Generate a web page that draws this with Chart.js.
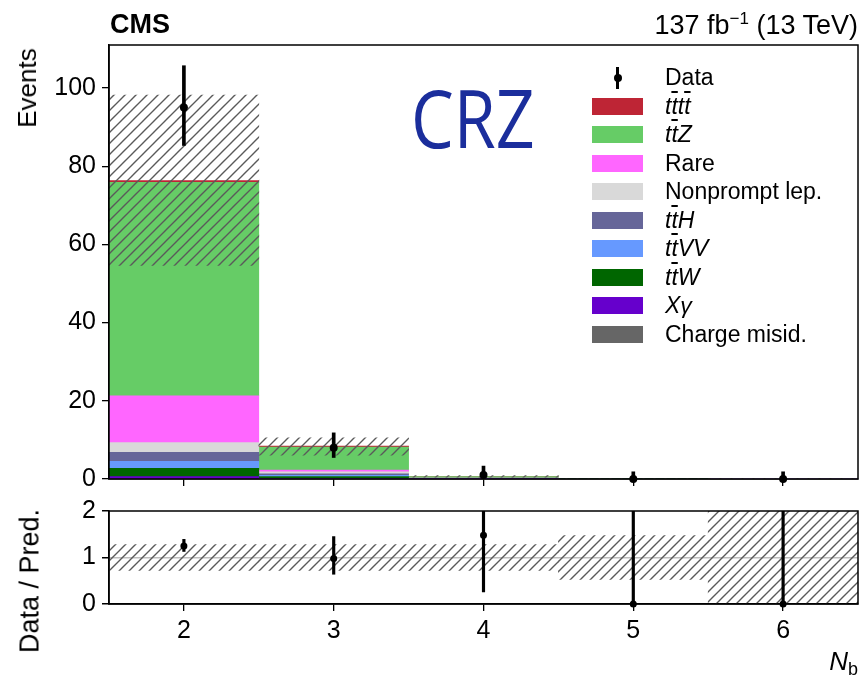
<!DOCTYPE html>
<html>
<head>
<meta charset="utf-8">
<title>CRZ N_b</title>
<script src="https://cdn.jsdelivr.net/npm/chart.js@4.4.1/dist/chart.umd.min.js"></script>
<style>
    html, body { margin: 0; padding: 0; background: #fff; }
    body { width: 862px; height: 675px; position: relative; overflow: hidden;
           font-family: "Liberation Sans", Arial, sans-serif; color: #000; }
    canvas { position: absolute; left: 0; }
    #main { top: 0; }
    #ratio { top: 490px; }
    .txt { position: absolute; white-space: nowrap; line-height: 1; }
    .rot { transform: translate(-50%, -50%) rotate(-90deg); }
    .bar { text-decoration: overline; text-decoration-thickness: 1.5px; }
    #legend { position: absolute; left: 592px; top: 64px; }
    .row { position: relative; height: 28.5px; }
    .sw { position: absolute; left: 0; top: 5px; width: 51px; height: 17px; }
    .lab { position: absolute; left: 73px; top: 2px; font-size: 23px; white-space: nowrap; line-height: 1; }
</style>
</head>
<body>
<canvas id="main" width="862" height="500"></canvas>
<canvas id="ratio" width="862" height="185"></canvas>

<div class="txt" style="left:110px; top:11px; font-size:27px; font-weight:bold;">CMS</div>
<div class="txt" style="right:4px; top:10px; font-size:27px;">137 fb<sup style="font-size:17px; vertical-align:10px;">&minus;1</sup> (13 TeV)</div>
<div class="txt rot" style="left:27px; top:88px; font-size:26px;">Events</div>
<div class="txt rot" style="left:30px; top:581px; font-size:27px;">Data / Pred.</div>
<div class="txt" style="left:411px; top:77px; font-size:80px; font-family:'Open Sans', sans-serif; color:#1b2e9c; transform:scaleX(0.85); transform-origin:left top;">CRZ</div>
<div class="txt" style="right:4px; top:648px; font-size:26px;"><i>N</i><span style="font-size:18px; vertical-align:-5px;">b</span></div>

<div id="legend">
    <div class="row">
        <div style="position:absolute; left:24px; top:3px; width:3px; height:22px; background:#000;"></div>
        <div style="position:absolute; left:21.5px; top:10px; width:8px; height:8px; border-radius:50%; background:#000;"></div>
        <div class="lab">Data</div>
    </div>
    <div class="row"><div class="sw" style="background:#be2535"></div><div class="lab"><i>t<span class="bar">t</span>t<span class="bar">t</span></i></div></div>
    <div class="row"><div class="sw" style="background:#66cc66"></div><div class="lab"><i>t<span class="bar">t</span>Z</i></div></div>
    <div class="row"><div class="sw" style="background:#ff66ff"></div><div class="lab">Rare</div></div>
    <div class="row"><div class="sw" style="background:#d9d9d9"></div><div class="lab">Nonprompt lep.</div></div>
    <div class="row"><div class="sw" style="background:#666699"></div><div class="lab"><i>t<span class="bar">t</span>H</i></div></div>
    <div class="row"><div class="sw" style="background:#6699ff"></div><div class="lab"><i>t<span class="bar">t</span>VV</i></div></div>
    <div class="row"><div class="sw" style="background:#006600"></div><div class="lab"><i>t<span class="bar">t</span>W</i></div></div>
    <div class="row"><div class="sw" style="background:#6600cc"></div><div class="lab"><i>X&gamma;</i></div></div>
    <div class="row"><div class="sw" style="background:#666666"></div><div class="lab">Charge misid.</div></div>
</div>

<script>
    // bins of N_b
    var bins = ["2", "3", "4", "5", "6"];

    // expected yields per process (stacked from the bottom)
    var chargeMisid = [0, 0, 0, 0, 0];
    var xGamma      = [0.6, 0.15, 0.01, 0, 0];
    var ttW         = [2.1, 0.5, 0.03, 0.01, 0];
    var ttVV        = [1.8, 0.3, 0.05, 0.01, 0];
    var ttH         = [2.3, 0.4, 0.04, 0.01, 0];
    var nonprompt   = [2.5, 0.5, 0.05, 0.01, 0];
    var rare        = [12.0, 0.4, 0.05, 0.01, 0.005];
    var ttZ         = [54.6, 5.9, 0.40, 0.05, 0.01];
    var tttt        = [0.4, 0.25, 0.05, 0.02, 0.01];

    // total uncertainty band (low, high)
    var uncLow  = [54.6, 6.1, 0.49, 0.06, 0];
    var uncHigh = [98.2, 10.5, 0.87, 0.18, 0.06];

    // observed data with error bars
    var dataObs  = [95, 8, 1, 0, 0];
    var dataLow  = [85.3, 5.5, 0.17, 0, 0];
    var dataHigh = [105.7, 11.8, 3.3, 1.84, 1.84];

    // ratio panel
    var ratioVal     = [1.25, 0.98, 1.48, 0, 0];
    var ratioLow     = [1.13, 0.64, 0.26, 0, 0];
    var ratioHigh    = [1.39, 1.45, 3.4, 20, 60];
    var ratioUncLow  = [0.72, 0.72, 0.72, 0.53, 0];
    var ratioUncHigh = [1.28, 1.28, 1.28, 1.47, 3];

    var mainTicks = [0, 20, 40, 60, 80, 100];

    function pairs(lo, hi) {
        return lo.map(function (v, i) { return [v, hi[i]]; });
    }

    // diagonal hatch like matplotlib '///'
    function makeHatch(ctx, size, color, lw) {
        var c = document.createElement('canvas');
        c.width = size; c.height = size;
        var g = c.getContext('2d');
        g.strokeStyle = color;
        g.lineWidth = lw;
        g.beginPath();
        g.moveTo(-1, size + 1); g.lineTo(size + 1, -1);
        g.moveTo(-size / 2 - 1, size / 2 + 1); g.lineTo(size / 2 + 1, -size / 2 - 1);
        g.moveTo(size / 2 - 1, size * 1.5 + 1); g.lineTo(size * 1.5 + 1, size / 2 - 1);
        g.stroke();
        return ctx.createPattern(c, 'repeat');
    }

    // full frame round the plot area
    var frame = {
        id: 'frame',
        afterDraw: function (chart) {
            var a = chart.chartArea, ctx = chart.ctx;
            ctx.save();
            ctx.strokeStyle = '#000';
            ctx.lineWidth = 1.5;
            ctx.strokeRect(a.left, a.top, a.right - a.left, a.bottom - a.top);
            ctx.restore();
        }
    };

    function stackSet(label, data, color) {
        return {
            type: 'bar', label: label, data: data, backgroundColor: color,
            borderWidth: 0, stack: 'mc', order: 3,
            barPercentage: 1, categoryPercentage: 1
        };
    }

    var tickFont = { family: '"Liberation Sans", Arial, sans-serif', size: 25 };

    // Main panel
    var ctx1 = document.getElementById('main').getContext('2d');
    new Chart(ctx1, {
        data: {
            labels: bins,
            datasets: [
                stackSet('Charge misid.', chargeMisid, '#666666'),
                stackSet('Xγ', xGamma, '#6600cc'),
                stackSet('ttW', ttW, '#006600'),
                stackSet('ttVV', ttVV, '#6699ff'),
                stackSet('ttH', ttH, '#666699'),
                stackSet('Nonprompt lep.', nonprompt, '#d9d9d9'),
                stackSet('Rare', rare, '#ff66ff'),
                stackSet('ttZ', ttZ, '#66cc66'),
                stackSet('tttt', tttt, '#be2535'),
                {
                    type: 'bar', label: 'Unc.', data: pairs(uncLow, uncHigh),
                    backgroundColor: makeHatch(ctx1, 11, '#5a5a5a', 1.4),
                    borderWidth: 0, stack: 'unc', grouped: false, order: 2,
                    barPercentage: 1, categoryPercentage: 1
                },
                {
                    type: 'bar', label: 'err', data: pairs(dataLow, dataHigh),
                    backgroundColor: '#000', barThickness: 3,
                    stack: 'err', grouped: false, order: 1
                },
                {
                    type: 'line', label: 'Data', data: dataObs, showLine: false,
                    pointRadius: 4, pointBackgroundColor: '#000', pointBorderWidth: 0,
                    stack: 'pts', order: 0, clip: false
                }
            ]
        },
        options: {
            responsive: false,
            animation: false,
            layout: { padding: { top: 45, right: 1, left: 0, bottom: 0 } },
            plugins: { legend: { display: false }, tooltip: { enabled: false } },
            scales: {
                x: {
                    type: 'category', offset: true, stacked: true,
                    grid: { drawOnChartArea: false, drawTicks: true, tickLength: 7, offset: false, color: '#000', lineWidth: 1.3 },
                    border: { color: '#000', width: 1.5 },
                    ticks: { display: false },
                    afterFit: function (s) { s.height = 18; }
                },
                y: {
                    min: 0, max: 111, stacked: true,
                    afterBuildTicks: function (s) { s.ticks = mainTicks.map(function (v) { return { value: v }; }); },
                    ticks: { font: tickFont, color: '#000', padding: 6 },
                    grid: { drawOnChartArea: false, tickLength: 7, color: '#000', lineWidth: 1.3 },
                    border: { color: '#000', width: 1.5 },
                    afterFit: function (s) { s.width = 109; }
                }
            }
        },
        plugins: [frame]
    });

    // Ratio panel
    var ctx2 = document.getElementById('ratio').getContext('2d');
    new Chart(ctx2, {
        data: {
            labels: bins,
            datasets: [
                {
                    type: 'bar', label: 'Unc.', data: pairs(ratioUncLow, ratioUncHigh),
                    backgroundColor: makeHatch(ctx2, 10, '#5a5a5a', 1.4),
                    borderWidth: 0, grouped: false, order: 2,
                    barPercentage: 1, categoryPercentage: 1
                },
                {
                    type: 'bar', label: 'err', data: pairs(ratioLow, ratioHigh),
                    backgroundColor: '#000', barThickness: 2.5,
                    grouped: false, order: 1
                },
                {
                    type: 'line', label: 'Data / Pred.', data: ratioVal, showLine: false,
                    pointRadius: 3.5, pointBackgroundColor: '#000', pointBorderWidth: 0,
                    order: 0, clip: false
                }
            ]
        },
        options: {
            responsive: false,
            animation: false,
            layout: { padding: { top: 18, right: 1, left: 0, bottom: 0 } },
            plugins: { legend: { display: false }, tooltip: { enabled: false } },
            scales: {
                x: {
                    type: 'category', offset: true,
                    grid: { drawOnChartArea: false, drawTicks: true, tickLength: 7, offset: false, color: '#000', lineWidth: 1.3 },
                    border: { color: '#000', width: 1.5 },
                    ticks: { font: tickFont, color: '#000', padding: 5, maxRotation: 0 },
                    afterFit: function (s) { s.height = 71; }
                },
                y: {
                    min: 0, max: 2,
                    ticks: { stepSize: 1, font: tickFont, color: '#000', padding: 6 },
                    grid: {
                        drawOnChartArea: true, tickLength: 7, lineWidth: 1.5,
                        color: function (c) { return c.tick && c.tick.value === 1 ? '#bdbdbd' : 'rgba(0,0,0,0)'; },
                        tickColor: '#000'
                    },
                    border: { color: '#000', width: 1.5 },
                    afterFit: function (s) { s.width = 109; }
                }
            }
        },
        plugins: [frame]
    });
</script>
</body>
</html>
